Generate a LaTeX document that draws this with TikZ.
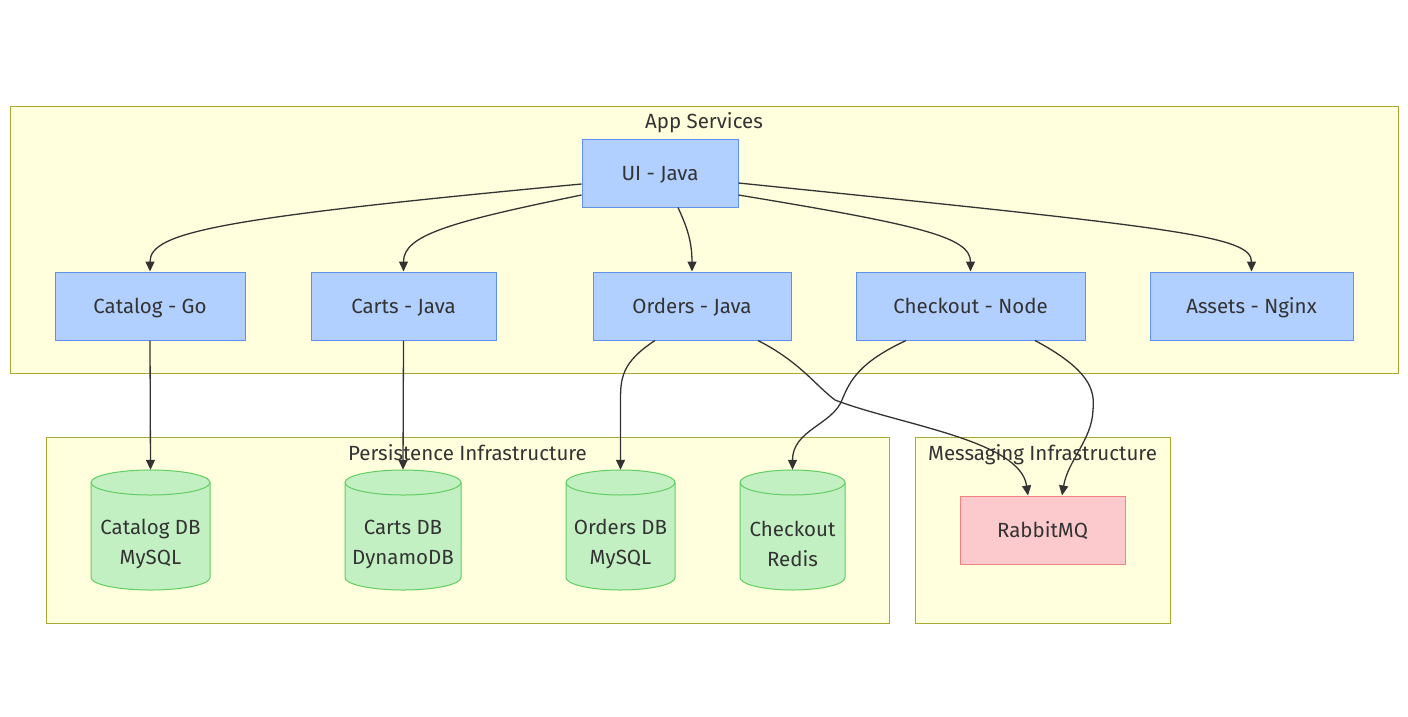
\documentclass[tikz,border=0pt]{standalone}
\usepackage{fontspec}
\setmainfont{Fira Sans}
\usetikzlibrary{arrows.meta}
\definecolor{clfill}{RGB}{255,255,222}
\definecolor{clline}{RGB}{170,170,51}
\definecolor{svcfill}{RGB}{177,207,255}
\definecolor{svcline}{RGB}{96,145,240}
\definecolor{dbfill}{RGB}{195,240,195}
\definecolor{dbline}{RGB}{96,206,96}
\definecolor{mqfill}{RGB}{252,202,204}
\definecolor{mqline}{RGB}{240,130,130}
\definecolor{txt}{RGB}{51,51,51}
\newcommand\dbcyl[5]{%
  \path[dbshape] ({#2-#3/2},482.5) -- ({#2-#3/2},577.5)
     arc[start angle=180,end angle=0,x radius={#3/2},y radius=12.5]
     -- ({#2+#3/2},482.5)
     arc[start angle=0,end angle=-180,x radius={#3/2},y radius=12.5] -- cycle;
  \draw[dbline,line width=1pt] ({#2-#3/2},482.5)
     arc[start angle=180,end angle=0,x radius={#3/2},y radius=12.5];
  \node[minimum width=#3pt,minimum height=120pt,inner sep=0pt] (#1) at (#2,530) {};
  \node[lbl,align=center,font=\fontsize{20.5}{30}\selectfont] (#1t) at (#2,544) {#4\\#5};
}
\begin{document}
\begin{tikzpicture}[x=1pt,y=-1pt,
  cluster/.style={draw=clline,fill=clfill,line width=1pt,inner sep=0pt},
  lbl/.style={text=txt,font=\fontsize{20.5}{30}\selectfont,inner sep=0pt},
  capbox/.style={text height=18pt,text depth=4pt},
  svc/.style={lbl,capbox,draw=svcline,fill=svcfill,line width=1pt,minimum height=68pt},
  mq/.style={lbl,capbox,draw=mqline,fill=mqfill,line width=1pt,minimum height=68pt},
  dbshape/.style={draw=dbline,fill=dbfill,line width=1pt},
  edge/.style={draw=txt,line width=1.3pt,-{Triangle[length=10pt,width=9pt]}}]
\useasboundingbox (0,0) rectangle (1408,716);
\fill[white] (0,0) rectangle (1408,716);
% clusters
\node[cluster,minimum width=1388pt,minimum height=267pt] (app) at (704,239.5) {};
\node[cluster,minimum width=843pt,minimum height=186pt] (pers) at (467.5,530) {};
\node[cluster,minimum width=255pt,minimum height=186pt] (msg) at (1042.5,530) {};
\node[lbl,capbox] (appl) at (704,121) {App Services};
\node[lbl,capbox] (persl) at (467.5,453) {Persistence Infrastructure};
\node[lbl,capbox] (msgl) at (1042.5,453) {Messaging Infrastructure};
% services
\node[svc,minimum width=156pt] (ui) at (660,173) {UI - Java};
\node[svc,minimum width=190pt] (catalog) at (150,306) {Catalog - Go};
\node[svc,minimum width=185pt] (carts) at (403.5,306) {Carts - Java};
\node[svc,minimum width=198pt] (orders) at (692,306) {Orders - Java};
\node[svc,minimum width=229pt] (checkout) at (970.5,306) {Checkout - Node};
\node[svc,minimum width=203pt] (assets) at (1251.5,306) {Assets - Nginx};
% databases
\dbcyl{catdb}{150.5}{119}{Catalog DB}{MySQL}
\dbcyl{cartdb}{403}{116}{Carts DB}{DynamoDB}
\dbcyl{orddb}{620.5}{109}{Orders DB}{MySQL}
\dbcyl{redis}{792.5}{105}{Checkout}{Redis}
\node[mq,minimum width=165pt] (rabbit) at (1042.5,530) {RabbitMQ};
% edges
\draw[edge] ([yshift=-11pt]ui.west) .. controls (220,218) and (150,232) .. (catalog.north);
\draw[edge] ([yshift=-22pt]ui.west) .. controls (450,222) and (403.5,235) .. (carts.north);
\draw[edge] ([xshift=18pt]ui.south) .. controls (686,225) and (692,240) .. (orders.north);
\draw[edge] ([yshift=-22pt]ui.east) .. controls (920,225) and (970.5,237) .. (checkout.north);
\draw[edge] ([yshift=-10pt]ui.east) .. controls (1180,228) and (1251.5,236) .. (assets.north);
\draw[edge] (catalog.south) -- (catdb.north);
\draw[edge] (carts.south) -- (cartdb.north);
\draw[edge] ([xshift=-37pt]orders.south) .. controls (622,362) and (620.5,378) .. (620.5,400) -- (orddb.north);
\draw[edge] ([xshift=66pt]orders.south) .. controls (800,362) and (815,385) .. (835,400)
   .. controls (900,425) and (1020,440) .. ([xshift=-14.5pt]rabbit.north);
\draw[edge] ([xshift=-64.5pt]checkout.south) .. controls (860,362) and (850,380) .. (842,400)
   .. controls (832,425) and (792.5,430) .. (redis.north);
\draw[edge] ([xshift=64.5pt]checkout.south) .. controls (1090,370) and (1095,390) .. (1093,410)
   .. controls (1092,440) and (1068,460) .. ([xshift=19.5pt]rabbit.north);
\end{tikzpicture}
\end{document}
